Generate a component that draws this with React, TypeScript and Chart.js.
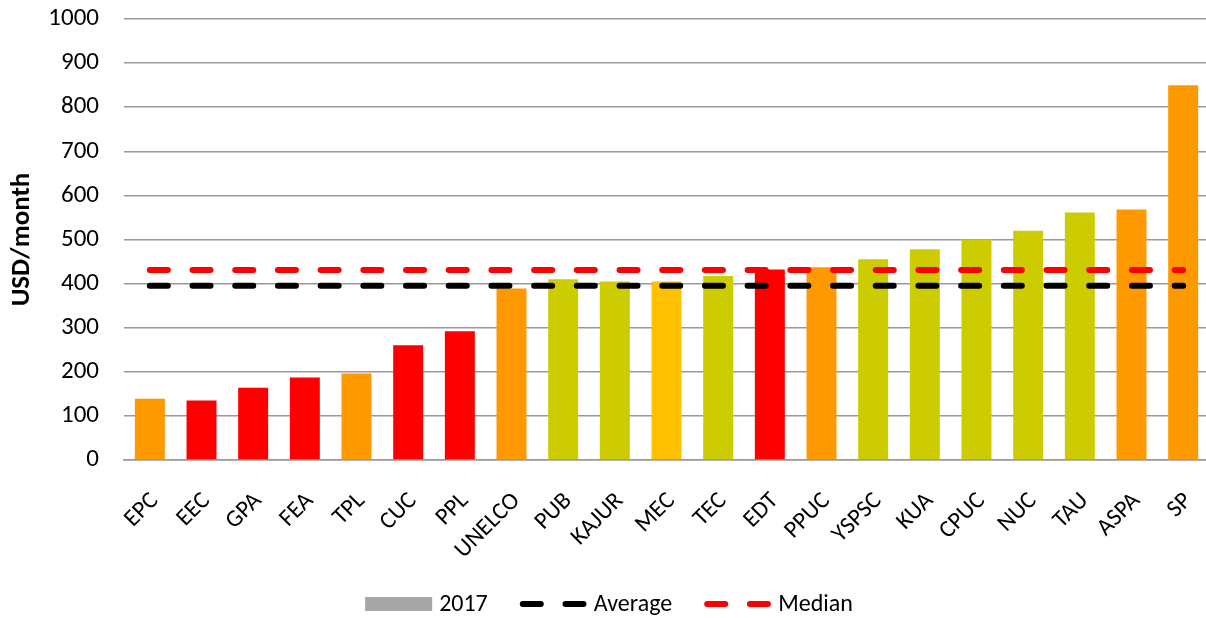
import React, { useEffect, useRef } from "react";
import { Chart, registerables } from "chart.js";

Chart.register(...registerables);

const categories = ["EPC","EEC","GPA","FEA","TPL","CUC","PPL","UNELCO","PUB","KAJUR","MEC","TEC","EDT","PPUC","YSPSC","KUA","CPUC","NUC","TAU","ASPA","SP"];
const values2017 = [139,135,164,187,196,260,292,389,410,405,405,417,432,437,455,478,500,520,561,568,850];
const barColors = ["#FF9900","#FF0000","#FF0000","#FF0000","#FF9900","#FF0000","#FF0000","#FF9900","#CCCC00","#CCCC00","#FFC000","#CCCC00","#FF0000","#FF9900","#CCCC00","#CCCC00","#CCCC00","#CCCC00","#CCCC00","#FF9900","#FF9900"];
const averageValue = 395;
const medianValue = 431;
const yTicks = [0,100,200,300,400,500,600,700,800,900,1000];

const FONT = "Carlito, Lato, 'Open Sans', sans-serif";

const legendItems = [
  { label: "2017", kind: "box", color: "#A6A6A6" },
  { label: "Average", kind: "dash", color: "#000000" },
  { label: "Median", kind: "dash", color: "#FF0000" },
];

const legendPlugin = {
  id: "customLegend",
  afterDraw(chart: any) {
    const ctx = chart.ctx;
    ctx.save();
    ctx.font = `24px ${FONT}`;
    const symW = 67, gapSym = 7, gapItem = 32;
    const widths = legendItems.map((it) => symW + gapSym + ctx.measureText(it.label).width);
    const total = widths.reduce((a, b) => a + b, 0) + gapItem * (legendItems.length - 1);
    let x = 609 - total / 2;
    const y = 604;
    legendItems.forEach((it, i) => {
      if (it.kind === "box") {
        ctx.fillStyle = it.color;
        ctx.fillRect(x, y - 7, symW, 14);
      } else {
        ctx.strokeStyle = it.color;
        ctx.lineWidth = 6;
        ctx.lineCap = "round";
        ctx.setLineDash([18, 24.7]);
        ctx.beginPath();
        ctx.moveTo(x + 3, y);
        ctx.lineTo(x + symW - 3, y);
        ctx.stroke();
        ctx.setLineDash([]);
      }
      ctx.fillStyle = "#000";
      ctx.textBaseline = "middle";
      ctx.textAlign = "left";
      ctx.fillText(it.label, x + symW + gapSym, y + 1);
      x += widths[i] + gapItem;
    });
    ctx.restore();
  },
};

export default function App() {
  const ref = useRef<HTMLCanvasElement>(null);
  useEffect(() => {
    document.body.style.margin = "0";
    document.body.style.overflow = "hidden";
    const chart = new Chart(ref.current!, {
      type: "bar",
      data: {
        labels: categories,
        datasets: [
          {
            type: "bar",
            label: "2017",
            data: values2017,
            backgroundColor: barColors,
            barPercentage: 0.58,
            categoryPercentage: 1,
            order: 2,
          } as any,
          {
            type: "line",
            label: "Average",
            data: categories.map(() => averageValue),
            borderColor: "#000000",
            borderWidth: 6,
            borderDash: [18, 24.7],
            borderCapStyle: "round",
            pointRadius: 0,
            fill: false,
            order: 1,
          },
          {
            type: "line",
            label: "Median",
            data: categories.map(() => medianValue),
            borderColor: "#FF0000",
            borderWidth: 6,
            borderDash: [18, 24.7],
            borderCapStyle: "round",
            pointRadius: 0,
            fill: false,
            order: 1,
          },
        ],
      },
      options: {
        animation: false,
        responsive: false,
        maintainAspectRatio: false,
        layout: { padding: { top: 19, right: 3, left: 0, bottom: 0 } },
        plugins: { legend: { display: false }, tooltip: { enabled: false } },
        scales: {
          x: {
            grid: { display: false },
            border: { color: "#999999", width: 1.5 },
            ticks: {
              color: "#000",
              font: { family: FONT, size: 24 },
              maxRotation: 45,
              minRotation: 45,
              autoSkip: false,
              padding: 19,
              labelOffset: 5,
            },
            afterFit: (s: any) => { s.height = 158; s.paddingLeft = 0; s.paddingRight = 0; },
          },
          y: {
            min: 0,
            max: 1000,
            afterBuildTicks: (s: any) => { s.ticks = yTicks.map((v) => ({ value: v })); },
            grid: { color: "#999999", lineWidth: 1.5, drawTicks: false },
            border: { display: false },
            ticks: { color: "#000", font: { family: FONT, size: 25 }, padding: 25, callback: (v: any) => String(v) },
            title: { display: true, text: "USD/month", color: "#000", font: { family: FONT, size: 27, weight: "bold" }, padding: { top: 6, bottom: 0 } },
            afterFit: (s: any) => { s.width = 124; s.paddingTop = 0; s.paddingBottom = 0; },
          },
        },
      },
      plugins: [legendPlugin],
    });
    return () => chart.destroy();
  }, []);
  return (
    <div style={{ width: 1212, height: 618, overflow: "hidden" }}>
      <canvas ref={ref} width={1212} height={618} style={{ display: "block" }} />
    </div>
  );
}
